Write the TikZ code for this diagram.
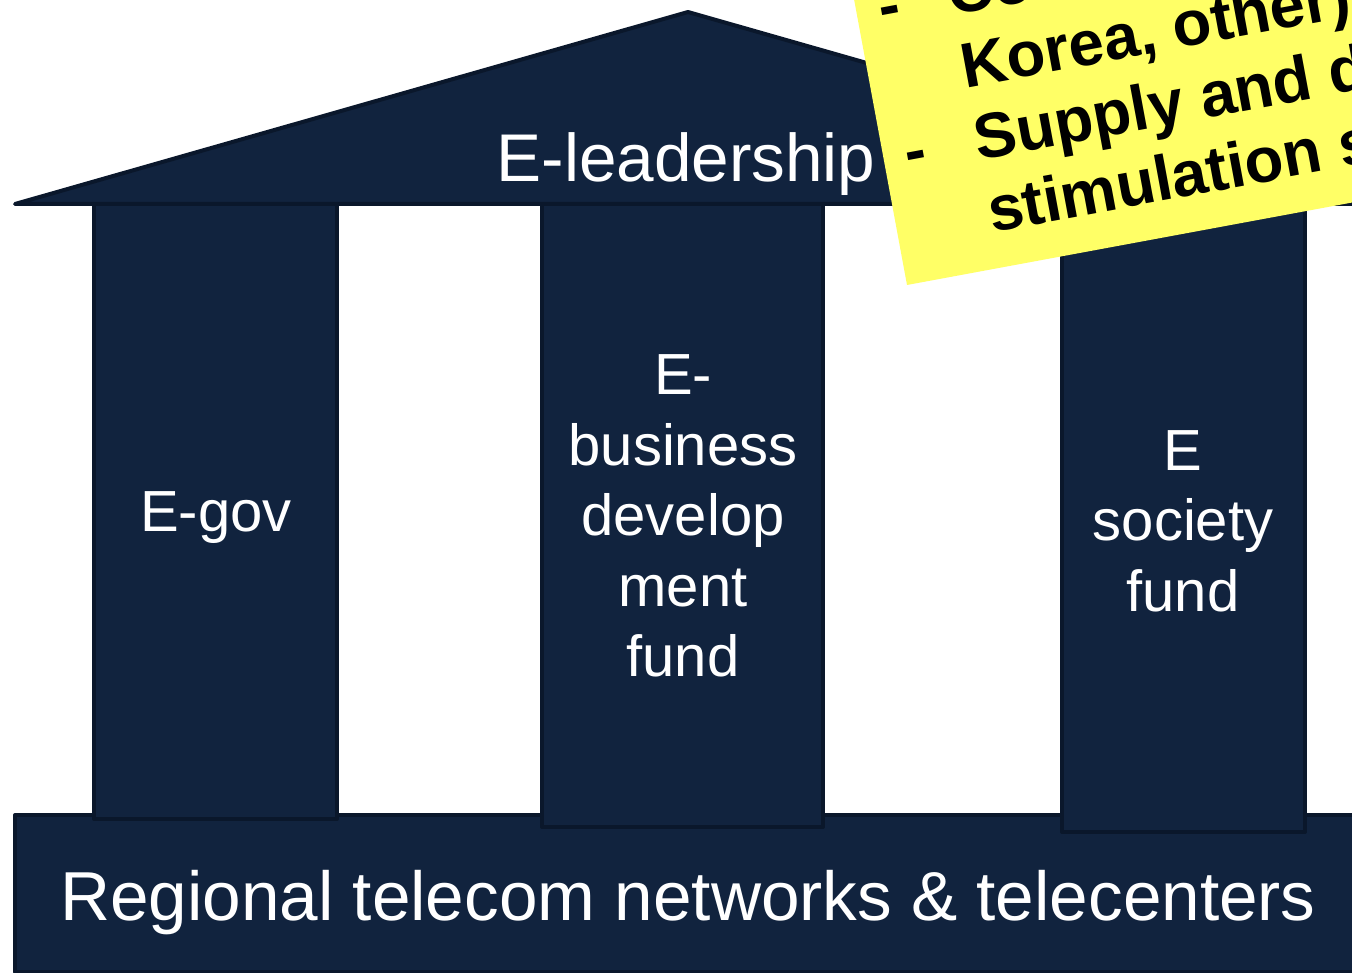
\documentclass[tikz,border=0pt]{standalone}
\usepackage{fontspec}
\setmainfont{Liberation Sans}
\definecolor{navy}{HTML}{11233E}
\definecolor{navyline}{HTML}{0A172B}
\definecolor{notefill}{HTML}{FFFF66}
\begin{document}
\begin{tikzpicture}[x=1pt,y=-1pt,
  block/.style={fill=navy,draw=navyline,line width=4pt,line join=round},
  pillartext/.style={text=white,align=center,inner sep=0pt,
    font=\fontsize{58}{70.5}\selectfont},
  bigtext/.style={text=white,inner sep=0pt,anchor=base},
  notetext/.style={text=black,inner sep=0pt,anchor=base west,
    font=\bfseries\fontsize{63.5}{73.5}\selectfont}]
\useasboundingbox (0,0) rectangle (1352,973);
\clip (0,0) rectangle (1352,973);

% roof
\draw[block] (15,204) -- (688,12) -- (1361,204) -- cycle;
\node[bigtext,font=\fontsize{67.5}{80}\selectfont] (roof) at (686,182) {E-leadership};

% foundation
\draw[block] (15,815) rectangle (1400,972);
\node[bigtext,font=\fontsize{69.3}{82}\selectfont] (base) at (688,920)
  {Regional telecom networks \& telecenters};

% pillars
\draw[block] (94,204) rectangle (337,819);
\draw[block] (542,204) rectangle (823,827);
\draw[block] (1062,204) rectangle (1305,832);
\node[bigtext,font=\fontsize{58}{70.5}\selectfont] (egov) at (216,531) {E-gov};
\node[pillartext] (ebiz) at (683,516) {E-\\business\\develop\\ment\\fund};
\node[pillartext] (esoc) at (1183,521) {E\\society\\fund};

% sticky note, tilted
\begin{scope}[shift={(907,285)},rotate=10.5,transform shape]
  \fill[notefill] (0,0) rectangle (800,-520);
  \node[notetext] (note) at (22,-36)
    {\begin{tabular}[b]{@{}l@{}l@{}}
      \makebox[71pt][l]{-}&Co-funding (Japan,\\
      &Korea, other)\\
      \makebox[71pt][l]{-}&Supply and demand\\
      &stimulation schemes
    \end{tabular}};
\end{scope}
\end{tikzpicture}
\end{document}
